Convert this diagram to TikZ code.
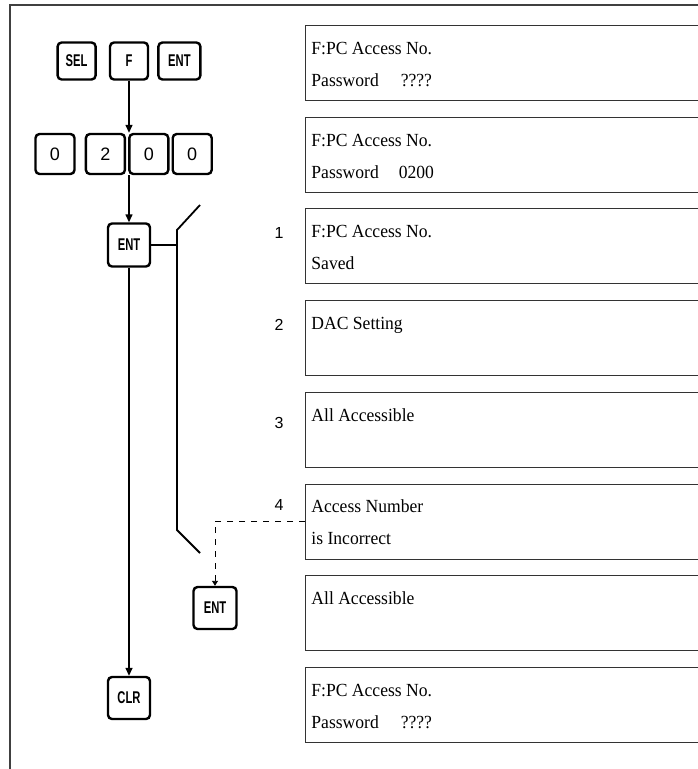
\documentclass[tikz,border=0pt]{standalone}
\usepackage{fontspec}
\setmainfont{Liberation Serif}[FakeStretch=0.95]
\newfontfamily\keyfont{Liberation Sans}[FakeStretch=0.66]
\newfontfamily\numfont{Liberation Sans}
\usetikzlibrary{positioning,arrows.meta,calc}
\tikzset{>={Triangle[length=8pt,width=7pt]}}
\tikzset{
  key/.style={draw, line width=2.4pt, rounded corners=4pt, minimum width=38pt, minimum height=37pt,
    inner sep=0pt, font=\keyfont\bfseries\fontsize{17}{17}\selectfont},
  digit/.style={key, minimum width=39pt, minimum height=40pt, font=\numfont\fontsize{18}{18}\selectfont},
  screen/.style={draw=black!80, line width=0.9pt, anchor=north west, inner xsep=6pt, inner ysep=0pt,
    font=\fontsize{18.5}{32}\selectfont},
  num/.style={font=\numfont\fontsize{16}{16}\selectfont},
  wire/.style={line width=1.4pt}
}
\newcommand{\lcd}[2]{\parbox[c][75pt][t]{400pt}{\rule{0pt}{29pt}#1\\#2}}

\begin{document}
\begin{tikzpicture}[x=1pt, y=-1pt, node distance=15.8pt]
  \useasboundingbox (0,0) rectangle (698,769);
  \clip (0,0) rectangle (698,769);
  \draw[line width=1.4pt, black!75] (10,775) -- (10,5) -- (705,5); % frame

  % screens
  \node[screen] (s1) at (305,25) {\lcd{F:PC Access No.}{Password\hspace{22pt}????}};
  \node[screen] (s2) [below=of s1] {\lcd{F:PC Access No.}{Password\hspace{20pt}0200}};
  \node[screen] (s3) [below=of s2] {\lcd{F:PC Access No.}{Saved}};
  \node[screen] (s4) [below=of s3] {\lcd{DAC Setting}{}};
  \node[screen] (s5) [below=of s4] {\lcd{All Accessible}{}};
  \node[screen] (s6) [below=of s5] {\lcd{Access Number}{is Incorrect}};
  \node[screen] (s7) [below=of s6] {\lcd{All Accessible}{}};
  \node[screen] (s8) [below=of s7] {\lcd{F:PC Access No.}{Password\hspace{22pt}????}};

  \node[num] (n1) at (279,233) {1};
  \node[num] (n2) at (279,325) {2};
  \node[num] (n3) at (279,423) {3};
  \node[num] (n4) at (279,505) {4};

  % keys
  \node[key] (f) at (129,61) {F};
  \node[key] (sel) [left=12pt of f] {SEL};
  \node[key, minimum width=42pt] (ent) [right=8pt of f] {ENT};
  \node[digit] (d1) at (55,154) {0};
  \node[digit] (d2) [right=9pt of d1] {2};
  \node[digit] (d3) [right=2pt of d2] {0};
  \node[digit] (d4) [right=2pt of d3] {0};
  \node[key, minimum width=42pt, minimum height=43pt] (ent1) at (129,245) {ENT};
  \node[key, minimum width=43pt, minimum height=42pt] (ent2) at (215,608) {ENT};
  \node[key, minimum width=42pt, minimum height=42pt] (clr) at (129,698) {CLR};

  \coordinate (bustop) at (177,230);
  \coordinate (busbot) at (177,530);
  \coordinate (sw1) at (200,205);
  \coordinate (sw2) at (200,553);

  \draw[wire, ->] (f.south) -- (f.south |- d2.north);
  \draw[wire, ->] (f.south |- d2.south) -- (ent1.north);
  \draw[wire, ->] (ent1.south) -- (clr.north);
  \draw[wire] (ent1.east) -- (ent1.east -| bustop);
  \draw[wire, line width=1.8pt] (sw1) -- (bustop) -- (busbot) -- (sw2);
  \draw[line width=0.9pt, dash pattern=on 6pt off 6pt, -{Triangle[length=5pt,width=6pt]}]
    (s6.west) -| (ent2.north);
\end{tikzpicture}
\end{document}
